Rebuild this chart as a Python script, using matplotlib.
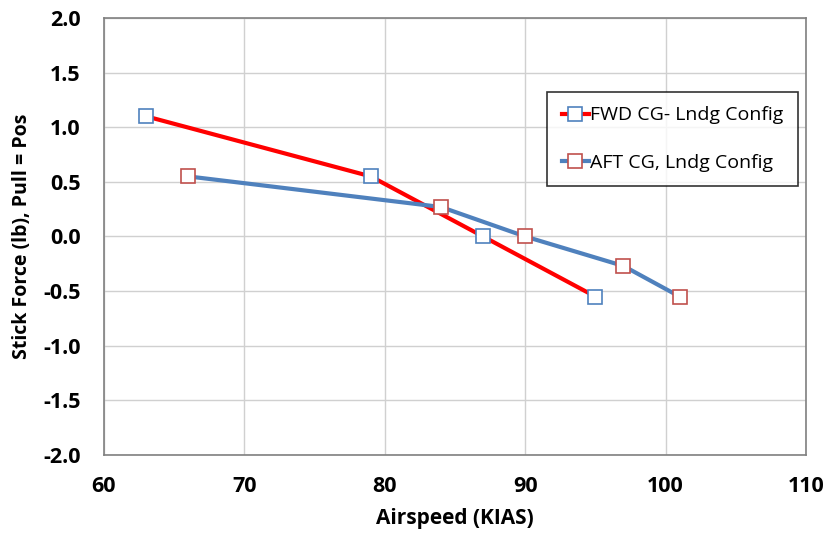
import matplotlib
matplotlib.use("Agg")
import matplotlib.pyplot as plt

fwd_x = [63, 79, 87, 95]
fwd_y = [1.1, 0.55, 0.0, -0.55]
aft_x = [66, 84, 90, 97, 101]
aft_y = [0.55, 0.27, 0.0, -0.27, -0.55]
x_ticks = [60, 70, 80, 90, 100, 110]
y_ticks = [-2.0, -1.5, -1.0, -0.5, 0.0, 0.5, 1.0, 1.5, 2.0]

plt.rcParams['font.family'] = ['Open Sans', 'DejaVu Sans']

fig = plt.figure(figsize=(8.26, 5.40), dpi=100)
ax = fig.add_axes([0.1259, 0.1574, 0.8499, 0.8093])

ax.plot(fwd_x, fwd_y, color='#ff0000', lw=3.0, marker='s', ms=10,
        mfc='white', mec='#4f81bd', mew=1.2, label='FWD CG- Lndg Config', zorder=3)
ax.plot(aft_x, aft_y, color='#4f81bd', lw=3.0, marker='s', ms=10,
        mfc='white', mec='#c0504d', mew=1.2, label='AFT CG, Lndg Config', zorder=3)

ax.set_xlim(60, 110)
ax.set_ylim(-2.0, 2.0)
ax.set_xticks(x_ticks)
ax.set_yticks(y_ticks)
ax.set_xticklabels([str(v) for v in x_ticks], fontsize=15.5, fontweight='bold')
ax.set_yticklabels([f"{v:.1f}" for v in y_ticks], fontsize=15.5, fontweight='bold')
ax.tick_params(axis='x', length=0, pad=15)
ax.tick_params(axis='y', length=0, pad=17)
ax.grid(True, color='#d0d0d0', lw=1.0)
ax.set_axisbelow(True)
for s in ax.spines.values():
    s.set_color('#808080')
    s.set_linewidth(1.2)

ax.set_xlabel('Airspeed (KIAS)', fontsize=15, fontweight='bold', labelpad=8)
ax.set_ylabel('Stick Force (lb), Pull = Pos', fontsize=14, fontweight='bold', labelpad=8)

leg = ax.legend(loc='upper left', bbox_to_anchor=(0.631, 0.831), fontsize=14,
                frameon=True, fancybox=False, edgecolor='black', borderpad=0.75,
                labelspacing=1.5, handlelength=1.4, handletextpad=0.05, borderaxespad=0)
leg.get_frame().set_linewidth(1.2)

fig.savefig('out.png', dpi=100)
